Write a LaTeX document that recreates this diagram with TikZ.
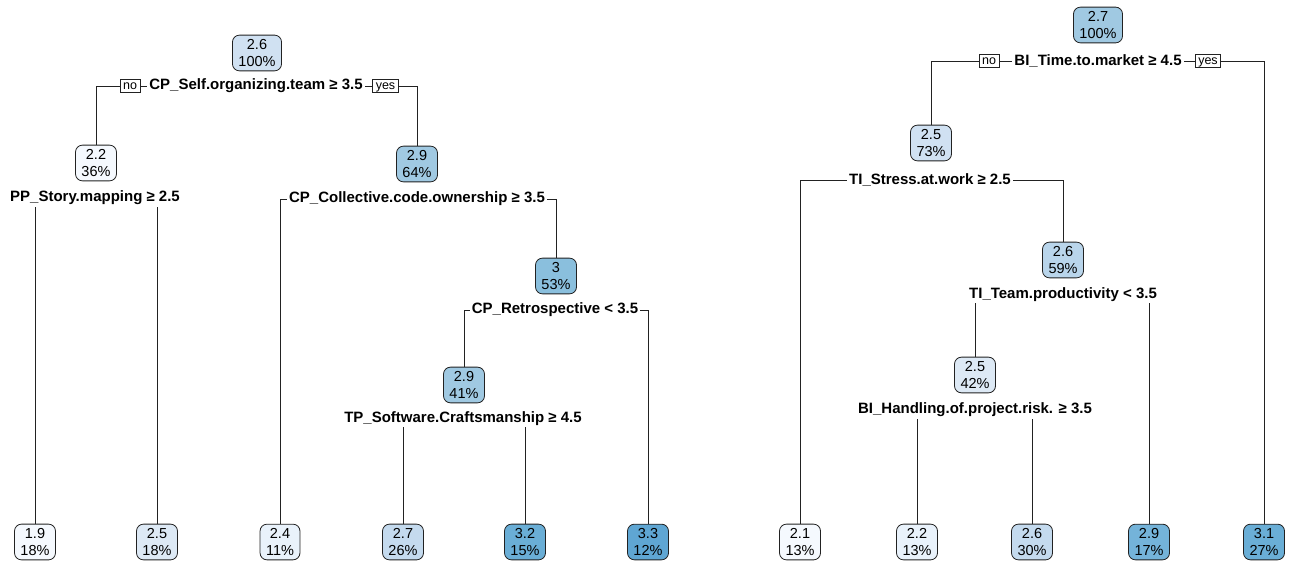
\documentclass[tikz,border=0pt]{standalone}
\usepackage{fontspec}
\setmainfont{Liberation Sans}
\usetikzlibrary{backgrounds}
\definecolor{edgecol}{HTML}{222222}
\definecolor{cA}{HTML}{F5F9FE}
\definecolor{cB}{HTML}{E9F2FB}
\definecolor{cC}{HTML}{DDE9F5}
\definecolor{cD}{HTML}{D0E1F2}
\definecolor{cE}{HTML}{C4DAEE}
\definecolor{cF}{HTML}{B9D5EB}
\definecolor{cG}{HTML}{A0C9E2}
\definecolor{cH}{HTML}{8ABFDD}
\definecolor{cI}{HTML}{74B3D9}
\definecolor{cJ}{HTML}{6AAED6}
\definecolor{cK}{HTML}{5FA6D3}
\tikzset{
  x=1pt, y=-1pt,
  tnode/.style={draw=edgecol, line width=0.8pt, rounded corners=7pt, align=center,
    inner xsep=6pt, inner ysep=4pt, font=\fontsize{14.5}{17.5}\selectfont},
  splitlab/.style={fill=white, inner xsep=2pt, inner ysep=1.5pt, font=\fontsize{15}{17}\selectfont\bfseries},
  yn/.style={draw=edgecol, line width=0.6pt, fill=white, inner xsep=3pt, inner ysep=1.5pt,
    text height=8.5pt, text depth=2pt, font=\fontsize{12.5}{13}\selectfont},
  branch/.style={draw=edgecol, line width=0.8pt}
}
\begin{document}
\begin{tikzpicture}
\useasboundingbox (0,0) rectangle (1289,567);
% ---------- left tree ----------
\node[tnode, fill=cD] (r1) at (257,53) {2.6\\100\%};
\node[tnode, fill=cA] (n22) at (96,163) {2.2\\36\%};
\node[tnode, fill=cG] (n29a) at (417,164) {2.9\\64\%};
\node[tnode, fill=cH] (n3) at (556,276) {3\\53\%};
\node[tnode, fill=cG] (n29b) at (464,385) {2.9\\41\%};
\node[tnode, fill=cA] (l19) at (35,542) {1.9\\18\%};
\node[tnode, fill=cC] (l25) at (157,542) {2.5\\18\%};
\node[tnode, fill=cB] (l24) at (280,542) {2.4\\11\%};
\node[tnode, fill=cE] (l27) at (403,542) {2.7\\26\%};
\node[tnode, fill=cJ] (l32) at (525,542) {3.2\\15\%};
\node[tnode, fill=cK] (l33) at (648,542) {3.3\\12\%};
\node[splitlab] (s1) at (256,86) {CP\_Self.organizing.team ≥ 3.5};
\node[yn] (no1) at (130,86) {no};
\node[yn] (yes1) at (385.5,86) {yes};
\node[splitlab] (s2) at (95,198) {PP\_Story.mapping ≥ 2.5};
\node[splitlab] (s3) at (417,199) {CP\_Collective.code.ownership ≥ 3.5};
\node[splitlab] (s4) at (555,310) {CP\_Retrospective < 3.5};
\node[splitlab] (s5) at (463,419) {TP\_Software.Craftsmanship ≥ 4.5};
% ---------- right tree ----------
\node[tnode, fill=cG] (R) at (1098,25) {2.7\\100\%};
\node[tnode, fill=cD] (m25a) at (931,143) {2.5\\73\%};
\node[tnode, fill=cF] (m26) at (1063,260) {2.6\\59\%};
\node[tnode, fill=cC] (m25b) at (975,375) {2.5\\42\%};
\node[tnode, fill=cA] (k21) at (800,542) {2.1\\13\%};
\node[tnode, fill=cB] (k22) at (917,542) {2.2\\13\%};
\node[tnode, fill=cE] (k26) at (1032,542) {2.6\\30\%};
\node[tnode, fill=cI] (k29) at (1149,542) {2.9\\17\%};
\node[tnode, fill=cJ] (k31) at (1264,542) {3.1\\27\%};
\node[splitlab] (t1) at (1098,61) {BI\_Time.to.market ≥ 4.5};
\node[yn] (no2) at (989,61) {no};
\node[yn] (yes2) at (1208,61) {yes};
\node[splitlab] (t2) at (930,180) {TI\_Stress.at.work ≥ 2.5};
\node[splitlab] (t3) at (1063,295) {TI\_Team.productivity < 3.5};
\node[splitlab] (t4) at (975,410) {BI\_Handling.of.project.risk. ≥ 3.5};
% ---------- branches ----------
\begin{pgfonlayer}{background}
\path[branch] (n22.north) |- (s1.center) -| (n29a.north);
\path[branch] (l19.north) |- (s2.center) -| (l25.north);
\path[branch] (l24.north) |- (s3.center) -| (n3.north);
\path[branch] (n29b.north) |- (s4.center) -| (l33.north);
\path[branch] (l27.north) |- (s5.center) -| (l32.north);
\path[branch] (m25a.north) |- (t1.center) -| (k31.north);
\path[branch] (k21.north) |- (t2.center) -| (m26.north);
\path[branch] (m25b.north) |- (t3.center) -| (k29.north);
\path[branch] (k22.north) |- (t4.center) -| (k26.north);
\end{pgfonlayer}
\end{tikzpicture}
\end{document}
